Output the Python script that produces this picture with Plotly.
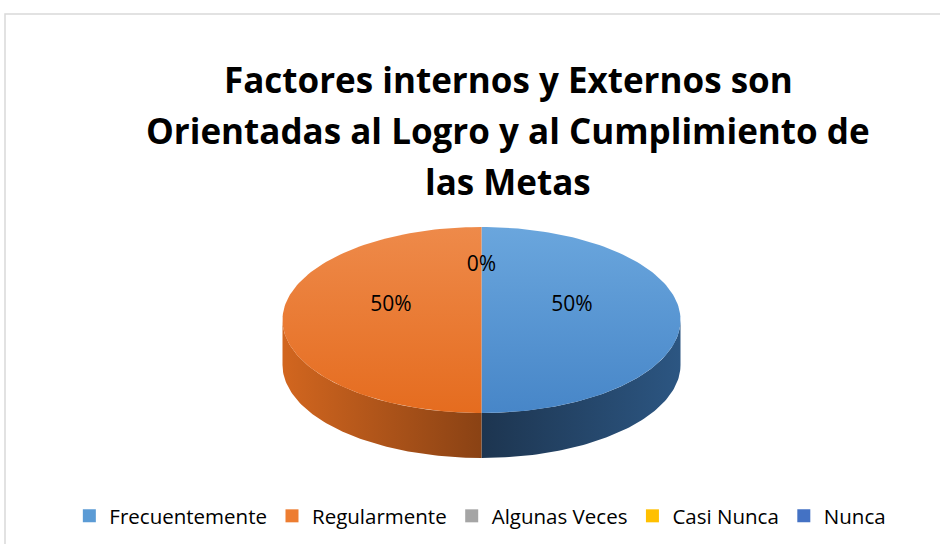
import numpy as np
import plotly.graph_objects as go

# ---- data ----
categories = ["Frecuentemente", "Regularmente", "Algunas Veces", "Casi Nunca", "Nunca"]
values = [50, 50, 0, 0, 0]
colors = ["#5B9BD5", "#ED7D31", "#A5A5A5", "#FFC000", "#4472C4"]
title_lines = ["Factores internos y Externos son",
               "Orientadas al Logro y al Cumplimiento de",
               "las Metas"]

# top/bottom tones for the simulated 3D shading
top_light = {"Frecuentemente": "#6AA6DD", "Regularmente": "#EE8A4A"}
top_dark = {"Frecuentemente": "#4786C8", "Regularmente": "#E56C1F"}
side_light = {"Frecuentemente": "#2C5682", "Regularmente": "#D2661F"}
side_dark = {"Frecuentemente": "#1D3550", "Regularmente": "#8A4214"}

# ---- geometry (pixel space) ----
W, H = 940, 544
cx, cy, rx, ry, depth = 481.5, 320, 199, 93, 45
FONT = "'Open Sans', Lato, sans-serif"

def pt(theta_deg, dy=0.0):
    t = np.radians(theta_deg)
    return cx + rx * np.sin(t), cy - ry * np.cos(t) + dy

total = sum(values)
fig = go.Figure()

starts = np.cumsum([0] + values[:-1]) / total * 360
ends = np.cumsum(values) / total * 360

# side walls (visible front half: 90..270 deg)
for cat, a, b, v in zip(categories, starts, ends, values):
    if v <= 0:
        continue
    lo, hi = max(a, 90), min(b, 270)
    if hi <= lo:
        continue
    th = np.linspace(lo, hi, 80)
    xs_top, ys_top = pt(th)
    xs_bot, ys_bot = pt(th[::-1], depth)
    xs = np.concatenate([xs_top, xs_bot, xs_top[:1]])
    ys = np.concatenate([ys_top, ys_bot, ys_top[:1]])
    if cat == "Regularmente":
        cs = [[0, side_light[cat]], [1, side_dark[cat]]]
    else:
        cs = [[0, side_dark[cat]], [1, side_light[cat]]]
    fig.add_trace(go.Scatter(
        x=xs, y=ys, mode="lines", line=dict(width=0),
        fill="toself",
        fillgradient=dict(type="horizontal", colorscale=cs,
                          start=float(xs.min()), stop=float(xs.max())),
        hoverinfo="skip", showlegend=False))

# top faces
for cat, a, b, v in zip(categories, starts, ends, values):
    if v <= 0:
        continue
    th = np.linspace(a, b, 120)
    xs, ys = pt(th)
    xs = np.concatenate([[cx], xs, [cx]])
    ys = np.concatenate([[cy], ys, [cy]])
    fig.add_trace(go.Scatter(
        x=xs, y=ys, mode="lines", line=dict(width=0),
        fill="toself",
        fillgradient=dict(type="vertical",
                          colorscale=[[0, top_light[cat]], [1, top_dark[cat]]],
                          start=cy - ry, stop=cy + ry),
        hoverinfo="skip", showlegend=False))

# percentage labels (coincident labels of empty slices drawn once)
lx, ly, lt, seen = [], [], [], set()
for a, b, v in zip(starts, ends, values):
    mid = np.radians((a + b) / 2)
    x = cx + 0.455 * rx * np.sin(mid)
    y = cy - 14 - 0.43 * ry * np.cos(mid)
    key = (round(x, 1), round(y, 1))
    if key in seen:
        continue
    seen.add(key)
    lx.append(x); ly.append(y); lt.append(f"{round(v / total * 100)}%")
fig.add_trace(go.Scatter(x=lx, y=ly, mode="text", text=lt,
                         textfont=dict(family=FONT, size=21, color="#000000"),
                         hoverinfo="skip", showlegend=False))

# legend entries
for cat, col in zip(categories, colors):
    fig.add_trace(go.Scatter(x=[None], y=[None], mode="markers", name=cat,
                             marker=dict(symbol="square", size=13, color=col)))

# title lines
for i, line in enumerate(title_lines):
    fig.add_annotation(x=508, y=79 + 51 * i, xref="x", yref="y", text=f"<b>{line}</b>",
                       showarrow=False, font=dict(family=FONT, size=35, color="#000000"))

# chart border
fig.add_shape(type="rect", x0=5, y0=14, x1=950, y1=560, xref="x", yref="y",
              line=dict(color="#D9D9D9", width=1.5), fillcolor="rgba(0,0,0,0)", layer="below")

fig.update_layout(
    width=W, height=H, margin=dict(l=0, r=0, t=0, b=0),
    paper_bgcolor="white", plot_bgcolor="white",
    xaxis=dict(range=[0, W], visible=False, fixedrange=True),
    yaxis=dict(range=[H, 0], visible=False, fixedrange=True),
    showlegend=True,
    legend=dict(orientation="h", x=0.511, xanchor="center", y=1 - 516 / H, yanchor="middle",
                font=dict(family=FONT, size=20.5, color="#000000"),
                itemsizing="trace", traceorder="normal"),
)

fig.write_html("out.html", config={"displayModeBar": False},
               post_script="document.body.style.margin='0';")
